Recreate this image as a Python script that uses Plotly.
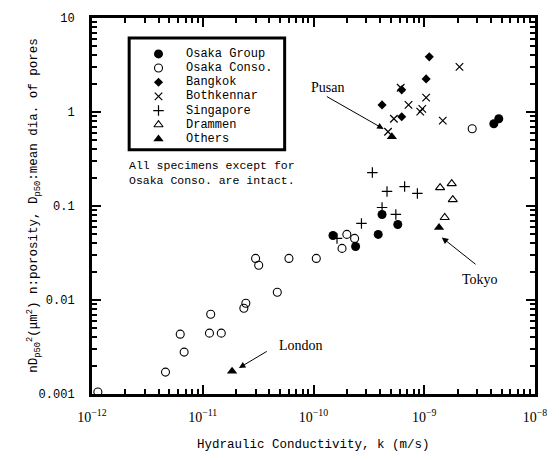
import plotly.graph_objects as go
import numpy as np

# ---------------- data (k in m/s, nDp50^2 in um^2) ----------------
osaka_group_k = [1.50e-10, 2.40e-10, 3.84e-10, 4.16e-10, 5.77e-10, 4.25e-9, 4.71e-9]
osaka_group_v = [0.0486, 0.0371, 0.0499, 0.0813, 0.0636, 0.75, 0.848]

osaka_conso_k = [1.13e-12, 4.61e-12, 6.26e-12, 6.79e-12, 1.15e-11, 1.18e-11, 1.47e-11,
                 2.35e-11, 2.45e-11, 4.71e-11, 3.0e-11, 3.2e-11, 6.0e-11, 1.06e-10,
                 1.81e-10, 2.0e-10, 2.35e-10, 2.71e-9]
osaka_conso_v = [0.00105, 0.00171, 0.00433, 0.00279, 0.00444, 0.00706, 0.00444,
                 0.00817, 0.00924, 0.0121, 0.0277, 0.0234, 0.0277, 0.0277,
                 0.0354, 0.0499, 0.0452, 0.664]

bangkok_k = [1.11e-9, 1.04e-9, 6.26e-10, 4.16e-10, 6.26e-10]
bangkok_v = [3.86, 2.25, 1.72, 1.19, 0.89]

bothkennar_k = [2.08e-9, 6.13e-10, 7.21e-10, 1.04e-9, 9.6e-10, 9.2e-10, 5.32e-10, 1.47e-9, 4.71e-10]
bothkennar_v = [3.02, 1.81, 1.19, 1.42, 1.08, 1.01, 0.848, 0.81, 0.617]

singapore_k = [3.4e-10, 4.61e-10, 6.65e-10, 8.67e-10, 4.16e-10, 5.54e-10, 2.71e-10, 1.63e-10]
singapore_v = [0.227, 0.143, 0.161, 0.136, 0.0964, 0.0813, 0.0652, 0.0452]

drammen_k = [1.39e-9, 1.77e-9, 1.81e-9, 1.53e-9]
drammen_v = [0.157, 0.173, 0.117, 0.0755]

others_k = [5.1e-10, 1.36e-9, 1.84e-11]
others_v = [0.546, 0.0592, 0.00175]
others_names = ["Pusan", "Tokyo", "London"]

x_tick_vals = [1e-12, 1e-11, 1e-10, 1e-9, 1e-8]
x_tick_text = ["10<sup>\u221212</sup>", "10<sup>\u221211</sup>", "10<sup>\u221210</sup>",
               "10<sup>\u22129</sup>", "10<sup>\u22128</sup>"]
y_tick_vals = [0.001, 0.01, 0.1, 1, 10]
y_tick_text = ["0.001", "0.01", "0.1", "1", "10"]

legend_labels = ["Osaka Group", "Osaka Conso.", "Bangkok", "Bothkennar",
                 "Singapore", "Drammen", "Others"]

# ---------------- styles ----------------
MONO = "Liberation Mono"
SERIF = "Liberation Serif"
BLK = "black"

styles = [
    dict(symbol="circle", size=9, color=BLK, line=dict(width=0, color=BLK)),
    dict(symbol="circle-open", size=8, color=BLK, line=dict(width=1.1, color=BLK)),
    dict(symbol="diamond", size=7, color=BLK, line=dict(width=0, color=BLK)),
    dict(symbol="x-thin-open", size=7.5, color=BLK, line=dict(width=1.2, color=BLK)),
    dict(symbol="cross-thin-open", size=7.5, color=BLK, line=dict(width=1.2, color=BLK)),
    dict(symbol="triangle-up-open", size=8, color=BLK, line=dict(width=1.1, color=BLK)),
    dict(symbol="triangle-up", size=9, color=BLK, line=dict(width=0, color=BLK)),
]
series = [
    (osaka_group_k, osaka_group_v),
    (osaka_conso_k, osaka_conso_v),
    (bangkok_k, bangkok_v),
    (bothkennar_k, bothkennar_v),
    (singapore_k, singapore_v),
    (drammen_k, drammen_v),
    (others_k, others_v),
]

fig = go.Figure()
for (k, v), st, name in zip(series, styles, legend_labels):
    fig.add_trace(go.Scatter(x=k, y=v, mode="markers", name=name, marker=st,
                             showlegend=False, xaxis="x", yaxis="y"))

# ---- custom legend on an overlay axis measured in pixels ----
L, R, T, B = 92, 545, 17, 394
leg_x_sym, leg_x_txt, leg_y0, leg_dy = 160, 186, 53, 14.2
for i, (st, name) in enumerate(zip(styles, legend_labels)):
    yy = leg_y0 + i * leg_dy
    fig.add_trace(go.Scatter(x=[leg_x_sym], y=[yy], mode="markers", marker=st,
                             showlegend=False, xaxis="x2", yaxis="y2", hoverinfo="skip"))
    fig.add_annotation(x=leg_x_txt, y=yy, xref="x2", yref="y2", text=name,
                       showarrow=False, xanchor="left", yanchor="middle",
                       font=dict(family=MONO, size=12, color=BLK))

fig.add_shape(type="rect", xref="x2", yref="y2", x0=130, x1=289, y0=37, y1=149,
              line=dict(color=BLK, width=3), fillcolor="rgba(0,0,0,0)")

fig.add_annotation(x=128, y=172, xref="x2", yref="y2",
                   text="All specimens except for<br>Osaka Conso. are intact.",
                   showarrow=False, xanchor="left", yanchor="middle", align="left",
                   font=dict(family=MONO, size=11.5, color=BLK))

# ---- site labels with arrows (head and tail in data units) ----
arrows = [
    # name, head k, head v, tail k, tail v, text x(px), text y(px)
    ("Pusan", 4.3e-10, 0.66, 1.28e-10, 1.49, 333, 87),
    ("Tokyo", 1.44e-9, 0.0463, 3.0e-9, 0.0233, 489, 279),
    ("London", 2.12e-11, 0.00189, 3.9e-11, 0.0029, 306, 345),
]
lg = np.log10
for name, hk, hv, tk, tv, tx, ty in arrows:
    fig.add_annotation(x=lg(hk), y=lg(hv), xref="x", yref="y", text="",
                       showarrow=True, arrowhead=2, arrowsize=1.3, arrowwidth=1,
                       arrowcolor=BLK, ax=lg(tk), ay=lg(tv), axref="x", ayref="y",
                       standoff=0, startstandoff=0)
    fig.add_annotation(x=tx, y=ty, xref="x2", yref="y2", text=name, showarrow=False,
                       xanchor="center", yanchor="middle",
                       font=dict(family=SERIF, size=14, color=BLK))

# ---- axis titles ----
W, H = 559, 460
pw, ph = R - L, B - T
fig.add_annotation(x=(32 - L) / pw, y=(B - 205) / ph, xref="paper", yref="paper",
                   text="nD<sub>p50</sub><sup>2</sup>(\u03bcm<sup>2</sup>) n:porosity, D<sub>p50</sub>:mean dia. of pores",
                   textangle=-90, showarrow=False, xanchor="center", yanchor="middle",
                   font=dict(family=MONO, size=12.5, color=BLK))
fig.add_annotation(x=(318 - L) / pw, y=(B - 445) / ph, xref="paper", yref="paper",
                   text="Hydraulic Conductivity, k (m/s)", showarrow=False,
                   xanchor="center", yanchor="middle",
                   font=dict(family=MONO, size=12.5, color=BLK))

minor_x = [m * 10.0 ** e for e in range(-12, -8) for m in range(2, 10)]
minor_y = [m * 10.0 ** e for e in range(-3, 1) for m in range(2, 10)]

axis_common = dict(showline=True, linewidth=3, linecolor=BLK, mirror="allticks",
                   ticks="inside", ticklen=9, tickwidth=2, tickcolor=BLK,
                   showgrid=False, zeroline=False)

fig.update_layout(
    width=W, height=H,
    margin=dict(l=L, r=W - R, t=T, b=H - B, pad=0),
    paper_bgcolor="white", plot_bgcolor="white",
    showlegend=False,
    xaxis=dict(type="log", range=[-12, -8], tickmode="array", tickvals=x_tick_vals,
               ticktext=x_tick_text, tickfont=dict(family=SERIF, size=14, color=BLK),
               minor=dict(tickmode="array", tickvals=minor_x, ticks="inside", ticklen=5,
                          tickwidth=2, tickcolor=BLK, showgrid=False),
               ticklabelstandoff=8,
               **axis_common),
    yaxis=dict(type="log", range=[-3, 1], tickmode="array", tickvals=y_tick_vals,
               ticktext=y_tick_text, tickfont=dict(family=MONO, size=12, color=BLK),
               minor=dict(tickmode="array", tickvals=minor_y, ticks="inside", ticklen=5,
                          tickwidth=2, tickcolor=BLK, showgrid=False),
               ticklabelstandoff=12,
               **axis_common),
    xaxis2=dict(overlaying="x", range=[L, R], visible=False, fixedrange=True),
    yaxis2=dict(overlaying="y", range=[B, T], visible=False, fixedrange=True),
)

fig.write_html("out.html")
